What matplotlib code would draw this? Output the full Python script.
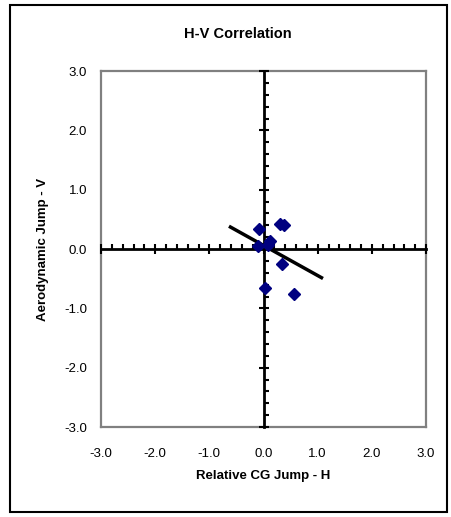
import numpy as np
import matplotlib.pyplot as plt
from matplotlib.ticker import MultipleLocator, FormatStrFormatter
from matplotlib.patches import Rectangle

plt.rcParams['font.family'] = ['Liberation Sans', 'DejaVu Sans']

# readings of the points
h_jump = [-0.09, 0.30, 0.38, 0.12, -0.10, 0.08, 0.34, 0.02, 0.56]
v_jump = [0.33, 0.42, 0.40, 0.14, 0.05, 0.06, -0.25, -0.66, -0.76]
# x range covered by the trend line
trend_x = [-0.61, 1.07]

fig = plt.figure(figsize=(4.51, 5.17), dpi=100)
fig.patches.append(Rectangle((10 / 451, 5 / 517), 437 / 451, 507 / 517,
                             transform=fig.transFigure, fill=False,
                             edgecolor='black', linewidth=1.5))

pos = [0.224, 0.174, 0.7206, 0.6886]
ax = fig.add_axes(pos)
ax.set_xlim(-3, 3)
ax.set_ylim(-3, 3)
for s in ax.spines.values():
    s.set_color('#808080')
    s.set_linewidth(1.6)
ax.xaxis.set_major_locator(MultipleLocator(1))
ax.yaxis.set_major_locator(MultipleLocator(1))
ax.xaxis.set_major_formatter(FormatStrFormatter('%.1f'))
ax.yaxis.set_major_formatter(FormatStrFormatter('%.1f'))
ax.tick_params(which='both', length=0, labelsize=9.5)
ax.tick_params(axis='x', pad=15)
ax.tick_params(axis='y', pad=10)

fig.text(238 / 451, 1 - 34 / 517, 'H-V Correlation', fontsize=10.5,
         fontweight='bold', ha='center', va='center')
ax.set_xlabel('Relative CG Jump - H', fontsize=9.5, fontweight='bold', labelpad=7)
ax.set_ylabel('Aerodynamic Jump - V', fontsize=9.5, fontweight='bold', labelpad=11)

# overlay axes for the zero lines with tick marks
ax2 = fig.add_axes(pos, sharex=ax, sharey=ax)
ax2.patch.set_visible(False)
ax2.spines['left'].set_position('zero')
ax2.spines['bottom'].set_position('zero')
ax2.spines['right'].set_visible(False)
ax2.spines['top'].set_visible(False)
for k in ('left', 'bottom'):
    ax2.spines[k].set_linewidth(2)
    ax2.spines[k].set_color('black')
ax2.xaxis.set_minor_locator(MultipleLocator(0.2))
ax2.yaxis.set_minor_locator(MultipleLocator(0.2))
ax2.tick_params(which='major', direction='inout', length=7, width=1.5,
                labelbottom=False, labelleft=False)
ax2.tick_params(which='minor', direction='in', length=3.5, width=1.5)

ax2.plot(h_jump, v_jump, 'D', color='#000080', markersize=6.5, zorder=5)

slope, icpt = np.polyfit(h_jump, v_jump, 1)
tx = np.array(trend_x)
ax2.plot(tx, slope * tx + icpt, color='black', linewidth=2.5, zorder=4)

fig.savefig('out.png', dpi=100)
